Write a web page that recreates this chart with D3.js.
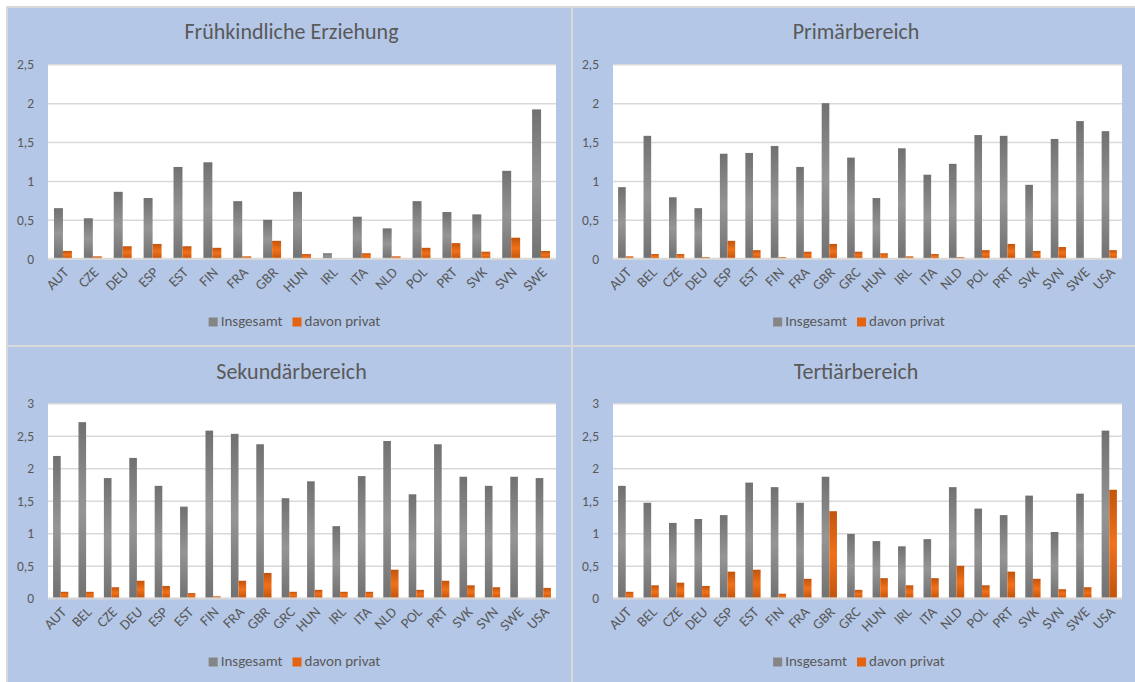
<!DOCTYPE html>
<html>
<head>
<meta charset="utf-8">
<script src="https://cdn.jsdelivr.net/npm/d3@7"></script>
<style>
  html, body { margin: 0; padding: 0; background: #ffffff; }
  svg { display: block; }
  text { font-family: Carlito, Calibri, Lato, "Open Sans", sans-serif; fill: #595959; }
</style>
</head>
<body>
<svg id="chart" width="1135" height="682"></svg>
<script>
// ---------- data ----------
const titles = ["Frühkindliche Erziehung", "Primärbereich", "Sekundärbereich", "Tertiärbereich"];
const seriesNames = ["Insgesamt", "davon privat"];

const categoriesFrueh = ["AUT","CZE","DEU","ESP","EST","FIN","FRA","GBR","HUN","IRL","ITA","NLD","POL","PRT","SVK","SVN","SWE"];
const categoriesOther = ["AUT","BEL","CZE","DEU","ESP","EST","FIN","FRA","GBR","GRC","HUN","IRL","ITA","NLD","POL","PRT","SVK","SVN","SWE","USA"];

const fruehInsgesamt = [0.65,0.52,0.86,0.78,1.18,1.24,0.74,0.50,0.86,0.07,0.54,0.39,0.74,0.60,0.57,1.13,1.92];
const fruehPrivat    = [0.10,0.03,0.16,0.19,0.16,0.14,0.03,0.23,0.06,0.00,0.07,0.03,0.14,0.20,0.09,0.27,0.10];

const primInsgesamt = [0.92,1.58,0.79,0.65,1.35,1.36,1.45,1.18,2.00,1.30,0.78,1.42,1.08,1.22,1.59,1.58,0.95,1.54,1.77,1.64];
const primPrivat    = [0.03,0.06,0.06,0.02,0.23,0.11,0.02,0.09,0.19,0.09,0.07,0.03,0.06,0.02,0.11,0.19,0.10,0.15,0.00,0.11];

const sekInsgesamt = [2.19,2.71,1.85,2.16,1.73,1.41,2.58,2.53,2.37,1.54,1.80,1.11,1.88,2.42,1.60,2.37,1.87,1.73,1.87,1.85];
const sekPrivat    = [0.10,0.10,0.17,0.27,0.19,0.08,0.03,0.27,0.39,0.10,0.13,0.10,0.10,0.44,0.13,0.27,0.20,0.17,0.00,0.16];

const tertInsgesamt = [1.73,1.47,1.16,1.22,1.28,1.78,1.71,1.47,1.87,0.99,0.88,0.80,0.91,1.71,1.38,1.28,1.58,1.02,1.61,2.58];
const tertPrivat    = [0.10,0.20,0.24,0.19,0.41,0.44,0.07,0.30,1.34,0.13,0.31,0.20,0.31,0.50,0.20,0.41,0.30,0.14,0.17,1.67];

const ticksTop = [0, 0.5, 1, 1.5, 2, 2.5];
const ticksBottom = [0, 0.5, 1, 1.5, 2, 2.5, 3];

// ---------- drawing ----------
const svg = d3.select("#chart");
const defs = svg.append("defs");
const FONT = "Carlito, Calibri, Lato, sans-serif";

function vGrad(id, edge, mid) {
  const g = defs.append("linearGradient").attr("id", id)
    .attr("x1", 0).attr("y1", 0).attr("x2", 0).attr("y2", 1);
  g.append("stop").attr("offset", "0%").attr("stop-color", edge);
  g.append("stop").attr("offset", "50%").attr("stop-color", mid);
  g.append("stop").attr("offset", "100%").attr("stop-color", edge);
}
vGrad("gGray", "#717171", "#959595");
vGrad("gOrange", "#c2540c", "#f2711a");
const fills = ["url(#gGray)", "url(#gOrange)"];
const legendFills = ["#858585", "#e5620f"];

const panels = [
  { title: titles[0], cats: categoriesFrueh, series: [fruehInsgesamt, fruehPrivat], ticks: ticksTop,
    box: [7, 7, 572, 346], plot: [48, 64.3, 556, 258.7], legendY: 322, titleY: 39 },
  { title: titles[1], cats: categoriesOther, series: [primInsgesamt, primPrivat], ticks: ticksTop,
    box: [572, 7, 1136, 346], plot: [613, 64.3, 1122, 258.7], legendY: 322, titleY: 39 },
  { title: titles[2], cats: categoriesOther, series: [sekInsgesamt, sekPrivat], ticks: ticksBottom,
    box: [7, 346, 572, 684], plot: [48, 403.3, 556, 598.3], legendY: 662, titleY: 379 },
  { title: titles[3], cats: categoriesOther, series: [tertInsgesamt, tertPrivat], ticks: ticksBottom,
    box: [572, 346, 1136, 684], plot: [613, 403.3, 1122, 598.3], legendY: 662, titleY: 379 }
];

panels.forEach(p => {
  const [bx0, by0, bx1, by1] = p.box;
  const [px0, py0, px1, py1] = p.plot;
  const g = svg.append("g");

  g.append("rect").attr("x", bx0).attr("y", by0).attr("width", bx1 - bx0).attr("height", by1 - by0)
    .attr("fill", "#b4c7e7").attr("stroke", "#d9d9d9").attr("stroke-width", 2);

  g.append("rect").attr("x", px0).attr("y", py0).attr("width", px1 - px0).attr("height", py1 - py0)
    .attr("fill", "#ffffff");

  const cx = (bx0 + bx1) / 2;
  g.append("text").attr("x", cx + 2).attr("y", p.titleY).attr("text-anchor", "middle")
    .attr("font-size", 22).text(p.title);

  const y = d3.scaleLinear().domain([0, d3.max(p.ticks)]).range([py1, py0]);
  const x = d3.scaleBand().domain(p.cats).range([px0, px1]);

  // gridlines + y labels
  const yAxis = d3.axisLeft(y).tickValues(p.ticks)
    .tickFormat(d => String(d).replace(".", ","))
    .tickSize(-(px1 - px0)).tickPadding(14);
  const ya = g.append("g").attr("transform", `translate(${px0},0)`).call(yAxis);
  ya.select(".domain").remove();
  ya.selectAll(".tick line").attr("stroke", "#d9d9d9").attr("stroke-width", 1.4);
  ya.selectAll(".tick text").attr("font-size", 13.5).attr("fill", "#595959")
    .style("font-family", FONT);

  // bars
  const bw = x.bandwidth() * 0.3;
  const inner = d3.scaleBand().domain([0, 1]).range([-bw, bw]);
  p.series.forEach((vals, si) => {
    g.append("g").selectAll("rect").data(p.cats).join("rect")
      .attr("x", (d) => x(d) + x.bandwidth() / 2 + inner(si))
      .attr("width", inner.bandwidth())
      .attr("y", (d, i) => y(vals[i]))
      .attr("height", (d, i) => y(0) - y(vals[i]))
      .attr("fill", fills[si]);
  });

  // baseline
  g.append("line").attr("x1", px0).attr("x2", px1).attr("y1", py1).attr("y2", py1)
    .attr("stroke", "#d9d9d9").attr("stroke-width", 2).attr("stroke-opacity", 0.85);

  // category labels
  const xAxis = d3.axisBottom(x).tickSize(0).tickPadding(0);
  const xa = g.append("g").attr("transform", `translate(0,${py1})`).call(xAxis);
  xa.select(".domain").remove();
  xa.selectAll(".tick text")
    .attr("font-size", 14.5).attr("fill", "#595959")
    .style("font-family", FONT)
    .attr("text-anchor", "end")
    .attr("x", 0).attr("y", 0).attr("dy", "0.35em")
    .attr("transform", "translate(3,11) rotate(-45)");

  // legend
  const lg = g.append("g");
  let off = 0;
  seriesNames.forEach((name, si) => {
    lg.append("rect").attr("x", off).attr("y", -4.5).attr("width", 9).attr("height", 9).attr("fill", legendFills[si]);
    const t = lg.append("text").attr("x", off + 12).attr("y", 0).attr("dominant-baseline", "middle")
      .attr("font-size", 15).text(name);
    off += 12 + t.node().getComputedTextLength() + 10;
  });
  off -= 10;
  lg.attr("transform", `translate(${cx + 5 - off / 2},${p.legendY})`);
});
</script>
</body>
</html>
